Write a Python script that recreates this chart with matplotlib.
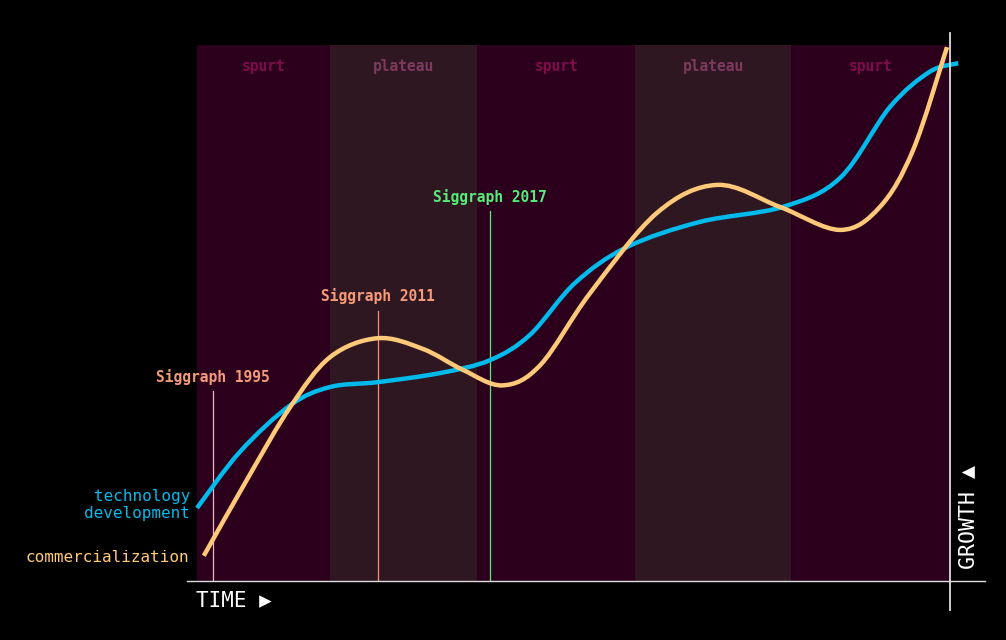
import numpy as np
import matplotlib.pyplot as plt
from matplotlib.lines import Line2D
from matplotlib.path import Path
from matplotlib.patches import PathPatch

# time / growth on a 0-100 scale
tech_x = [0.0, 5.7, 12.4, 17.7, 24.0, 32.3, 38.9, 44.2, 50.2, 57.1, 66.8, 77.8, 85.4,
          92.0, 97.3, 101.1]
tech_y = [13.6, 24.1, 32.8, 36.2, 37.1, 38.8, 41.2, 45.9, 55.6, 62.3, 67.0, 69.8, 75.2,
          88.4, 95.0, 96.6]

comm_x = [0.9, 7.0, 12.4, 17.7, 24.0, 30.0, 35.3, 40.6, 45.6, 52.2, 61.1, 69.1, 77.4,
          85.4, 90.7, 95.1, 99.6]
comm_y = [4.7, 19.8, 32.5, 41.8, 45.3, 43.3, 39.4, 36.5, 40.3, 53.7, 68.7, 73.9, 69.8,
          65.5, 69.8, 80.4, 99.6]

phase_edges = [0, 17.7, 37.2, 58.2, 78.9, 100]
phase_names = ['spurt', 'plateau', 'spurt', 'plateau', 'spurt']

event_names = ['Siggraph 1995', 'Siggraph 2011', 'Siggraph 2017']
event_x = [2.1, 24.0, 38.9]
event_top = [35.4, 50.4, 69.0]

BG = '#000000'
SPURT_BG = '#2c001c'
PLATEAU_BG = '#2f1722'
SPURT_TXT = '#7e0c4c'
PLATEAU_TXT = '#7c3a5c'
BLUE = '#00baeb'
ORANGE = '#ffc97a'
EVENT_TXT = ['#f59a7a', '#f59a7a', '#55ec78']
EVENT_LINE = ['#f2b4c4', '#f79072', '#55ec78']
MONO = ['DejaVu Sans Mono', 'DejaVu Sans']


def smooth_path(xs, ys):
    # catmull-rom through the points, handed to matplotlib as cubic bezier segments
    pts = np.column_stack([xs, ys])
    padded = np.vstack([pts[0], pts, pts[-1]])
    verts = [pts[0]]
    codes = [Path.MOVETO]
    for i in range(1, len(padded) - 2):
        p0, p1, p2, p3 = padded[i - 1], padded[i], padded[i + 1], padded[i + 2]
        verts += [p1 + (p2 - p0) / 6, p2 - (p3 - p1) / 6, p2]
        codes += [Path.CURVE4] * 3
    return Path(verts, codes)


fig = plt.figure(figsize=(10.06, 6.4), dpi=100, facecolor=BG)
ax = fig.add_axes([197 / 1006, 59 / 640, 753 / 1006, 536 / 640])
ax.set_facecolor(BG)
ax.set_xlim(0, 100)
ax.set_ylim(0, 100)
ax.axis('off')

for i, name in enumerate(phase_names):
    x0, x1 = phase_edges[i], phase_edges[i + 1]
    is_spurt = name == 'spurt'
    ax.axvspan(x0, x1, color=SPURT_BG if is_spurt else PLATEAU_BG, lw=0, zorder=0)
    ax.text((x0 + x1) / 2, 95.9, name, ha='center', va='center', fontsize=10.5,
            family=MONO, fontweight='bold', color=SPURT_TXT if is_spurt else PLATEAU_TXT)

for name, x, top, tc, lc in zip(event_names, event_x, event_top, EVENT_TXT, EVENT_LINE):
    ax.plot([x, x], [0, top], color=lc, lw=0.9, zorder=2)
    ax.text(x, top + 2.7, name, ha='center', va='center', fontsize=10.5,
            family=MONO, fontweight='bold', color=tc)

for xs, ys, col in [(tech_x, tech_y, BLUE), (comm_x, comm_y, ORANGE)]:
    ax.add_patch(PathPatch(smooth_path(xs, ys), facecolor='none', edgecolor=col,
                           lw=3.2, capstyle='butt', joinstyle='round',
                           clip_on=False, zorder=3))

# series labels on the left
fig.text(190 / 1006, 1 - 505 / 640, 'technology\ndevelopment', ha='right', va='center',
         fontsize=11.5, family=MONO, color=BLUE, linespacing=1.1)
fig.text(189 / 1006, 1 - 557 / 640, 'commercialization', ha='right', va='center',
         fontsize=11.5, family=MONO, color=ORANGE)

# axes lines
fig.add_artist(Line2D([187 / 1006, 985 / 1006], [59 / 640, 59 / 640], color='#dddddd', lw=1))
fig.add_artist(Line2D([950 / 1006, 950 / 1006], [30 / 640, 607 / 640], color='#dddddd', lw=1.3))

fig.text(196 / 1006, 1 - 600 / 640, 'TIME \u25b6', ha='left', va='center',
         fontsize=15, family=MONO, color='white')
fig.text(968 / 1006, 1 - 569 / 640, 'GROWTH \u25b2', ha='center', va='bottom',
         rotation=90, fontsize=15.5, family=MONO, color='white')

fig.savefig('out.png', dpi=100, facecolor=BG)
